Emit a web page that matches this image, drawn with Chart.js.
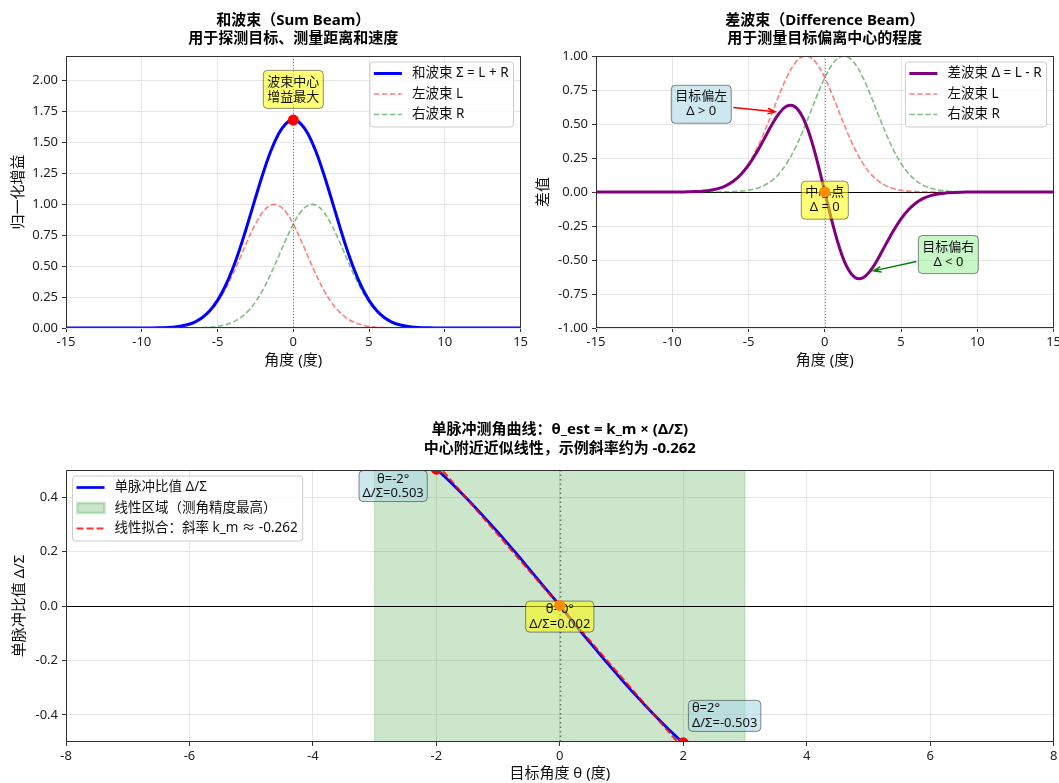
<!DOCTYPE html>
<html lang="zh">
<head>
<meta charset="utf-8">
<title>和差波束与单脉冲测角</title>
<script src="https://cdn.jsdelivr.net/npm/chart.js@4.4.1/dist/chart.umd.min.js"></script>
<style>
  html, body { margin: 0; padding: 0; background: #fff; overflow: hidden; }
  canvas { position: absolute; }
</style>
</head>
<body>
<canvas id="sumChart" width="530" height="370" style="left:0;top:0"></canvas>
<canvas id="diffChart" width="545" height="370" style="left:530px;top:0"></canvas>
<canvas id="ratioChart" width="1075" height="383" style="left:0;top:400px"></canvas>

<script>
const FONT = '"Noto Sans", "Noto Sans CJK SC", sans-serif';
Chart.defaults.font.family = FONT;
Chart.defaults.color = '#222';
Chart.defaults.animation = false;

// 角度 (度)
const angles = [-15, -14.5, -14, -13.5, -13, -12.5, -12, -11.5, -11, -10.5, -10, -9.5, -9, -8.5, -8, -7.5,
  -7, -6.5, -6, -5.5, -5, -4.5, -4, -3.5, -3, -2.5, -2, -1.5, -1, -0.5, 0, 0.5, 1, 1.5, 2, 2.5, 3, 3.5,
  4, 4.5, 5, 5.5, 6, 6.5, 7, 7.5, 8, 8.5, 9, 9.5, 10, 10.5, 11, 11.5, 12, 12.5, 13, 13.5, 14, 14.5, 15];

const leftBeam = [0, 0, 0, 0, 0, 0, 0, 0, 0, 0.0001, 0.0002, 0.0005, 0.0013, 0.0029, 0.0064, 0.0131,
  0.0256, 0.0470, 0.0819, 0.1349, 0.2102, 0.3099, 0.4322, 0.5704, 0.7120, 0.8409, 0.9395, 0.9931, 0.9931, 0.9395, 0.8409, 0.7120, 0.5704, 0.4322,
  0.3099, 0.2102, 0.1349, 0.0819, 0.0470, 0.0256, 0.0131, 0.0064, 0.0029, 0.0013, 0.0005, 0.0002, 0.0001,
  0, 0, 0, 0, 0, 0, 0, 0, 0, 0, 0, 0, 0, 0];

const rightBeam = [0, 0, 0, 0, 0, 0, 0, 0, 0, 0, 0, 0, 0, 0, 0.0001, 0.0002, 0.0005, 0.0013, 0.0029, 0.0064,
  0.0131, 0.0256, 0.0470, 0.0819, 0.1349, 0.2102, 0.3099, 0.4322, 0.5704, 0.7120, 0.8409, 0.9395, 0.9931, 0.9931,
  0.9395, 0.8409, 0.7120, 0.5704, 0.4322, 0.3099, 0.2102, 0.1349, 0.0819, 0.0470, 0.0256, 0.0131, 0.0064, 0.0029,
  0.0013, 0.0005, 0.0002, 0.0001, 0, 0, 0, 0, 0, 0, 0, 0, 0];

const sumBeam = [0, 0, 0, 0, 0, 0, 0, 0, 0, 0.0001, 0.0002, 0.0005, 0.0013, 0.0029, 0.0065, 0.0133,
  0.0261, 0.0483, 0.0848, 0.1413, 0.2233, 0.3355, 0.4792, 0.6523, 0.8469, 1.0511, 1.2494, 1.4253, 1.5635, 1.6515,
  1.6818, 1.6515, 1.5635, 1.4253, 1.2494, 1.0511, 0.8469, 0.6523, 0.4792, 0.3355, 0.2233, 0.1413, 0.0848, 0.0483,
  0.0261, 0.0133, 0.0065, 0.0029, 0.0013, 0.0005, 0.0002, 0.0001, 0, 0, 0, 0, 0, 0, 0, 0, 0];

const diffBeam = [0, 0, 0, 0, 0, 0, 0, 0, 0, 0.0001, 0.0002, 0.0005, 0.0013, 0.0029, 0.0063, 0.0129,
  0.0251, 0.0457, 0.0790, 0.1285, 0.1971, 0.2843, 0.3852, 0.4885, 0.5771, 0.6307, 0.6296, 0.5609, 0.4227, 0.2275,
  0, -0.2275, -0.4227, -0.5609, -0.6296, -0.6307, -0.5771, -0.4885, -0.3852, -0.2843, -0.1971, -0.1285, -0.0790, -0.0457,
  -0.0251, -0.0129, -0.0063, -0.0029, -0.0013, -0.0005, -0.0002, -0.0001, 0, 0, 0, 0, 0, 0, 0, 0, 0];

// 单脉冲比值 Δ/Σ
const ratioAngles = [-2, -1.75, -1.5, -1.25, -1, -0.75, -0.5, -0.25, 0, 0.25, 0.5, 0.75, 1, 1.25, 1.5, 1.75, 2];
const ratioValues = [0.5038, 0.4506, 0.3935, 0.3334, 0.2705, 0.2050, 0.1378, 0.0692, 0.002,
  -0.0692, -0.1378, -0.2050, -0.2705, -0.3334, -0.3935, -0.4506, -0.5038];
const fitAngles = [-2, 2];
const fitValues = [0.524, -0.524];
const fitSlope = -0.262;
const linearRegion = [-3, 3];

// 标记点
const peakAngles = [0];
const peakValues = [1.6818];
const centerAngles = [0];
const centerValues = [0];
const sampleAngles = [-2, 0, 2];
const sampleValues = [0.503, 0.002, -0.503];

// 刻度
const beamTicksX = [-15, -10, -5, 0, 5, 10, 15];
const sumTicksY = [0, 0.25, 0.5, 0.75, 1, 1.25, 1.5, 1.75, 2];
const diffTicksY = [-1, -0.75, -0.5, -0.25, 0, 0.25, 0.5, 0.75, 1];
const ratioTicksX = [-8, -6, -4, -2, 0, 2, 4, 6, 8];
const ratioTicksY = [-0.4, -0.2, 0, 0.2, 0.4];

const pts = (xs, ys) => xs.map((x, i) => ({ x, y: ys[i] }));

const YELLOW = 'rgba(255,255,0,0.55)';
const LIGHTBLUE = 'rgba(173,216,230,0.6)';
const LIGHTGREEN = 'rgba(144,238,144,0.5)';
const RED_DASH = 'rgba(255,0,0,0.5)';
const GREEN_DASH = 'rgba(0,128,0,0.5)';

function roundRect(ctx, x, y, w, h, r) {
  ctx.beginPath();
  ctx.moveTo(x + r, y);
  ctx.arcTo(x + w, y, x + w, y + h, r);
  ctx.arcTo(x + w, y + h, x, y + h, r);
  ctx.arcTo(x, y + h, x, y, r);
  ctx.arcTo(x, y, x + w, y, r);
  ctx.closePath();
}

function drawNote(chart, n, st) {
  const { ctx, scales: { x, y } } = chart;
  const cx = x.getPixelForValue(n.at[0]);
  const cy = y.getPixelForValue(n.at[1]);
  ctx.save();
  ctx.font = `${st.size}px ${FONT}`;
  const tw = Math.max(...n.lines.map(t => ctx.measureText(t).width));
  const w = tw + 2 * st.padX;
  const h = n.lines.length * st.lineH + 2 * st.padY;
  const bx = cx - w / 2, by = cy - h / 2;

  if (n.arrowTo) {
    const tx = x.getPixelForValue(n.arrowTo[0]);
    const ty = y.getPixelForValue(n.arrowTo[1]);
    const dx = tx - cx, dy = ty - cy;
    const s = Math.min((w / 2 + 2) / Math.abs(dx || 1e-6), (h / 2 + 2) / Math.abs(dy || 1e-6));
    const sx = cx + dx * s, sy = cy + dy * s;
    const ang = Math.atan2(ty - sy, tx - sx);
    ctx.strokeStyle = n.arrowColor;
    ctx.lineWidth = 1.5;
    ctx.beginPath();
    ctx.moveTo(sx, sy);
    ctx.lineTo(tx, ty);
    ctx.moveTo(tx - 8 * Math.cos(ang - 0.35), ty - 8 * Math.sin(ang - 0.35));
    ctx.lineTo(tx, ty);
    ctx.lineTo(tx - 8 * Math.cos(ang + 0.35), ty - 8 * Math.sin(ang + 0.35));
    ctx.stroke();
  }

  roundRect(ctx, bx, by, w, h, 4);
  ctx.fillStyle = n.bg;
  ctx.fill();
  ctx.strokeStyle = 'rgba(0,0,0,0.45)';
  ctx.lineWidth = 1;
  ctx.stroke();

  ctx.fillStyle = '#111';
  ctx.textBaseline = 'middle';
  ctx.textAlign = n.align === 'left' ? 'left' : 'center';
  const tx0 = n.align === 'left' ? bx + st.padX : cx;
  n.lines.forEach((t, i) => ctx.fillText(t, tx0, by + st.padY + st.lineH * (i + 0.5)));
  ctx.restore();
}

function drawLegend(chart, lg) {
  const { ctx, chartArea: a } = chart;
  ctx.save();
  ctx.font = `13.5px ${FONT}`;
  const tw = Math.max(...lg.items.map(it => ctx.measureText(it.text).width));
  const w = 42 + tw + 5;
  const h = 24 + (lg.items.length - 1) * 20.5;
  const x0 = lg.side === 'right' ? a.right - 7 - w : a.left + 6.5;
  const y0 = a.top + 6;
  roundRect(ctx, x0, y0, w, h, 3);
  ctx.fillStyle = 'rgba(255,255,255,0.8)';
  ctx.fill();
  ctx.strokeStyle = '#cccccc';
  ctx.lineWidth = 1;
  ctx.stroke();
  lg.items.forEach((it, i) => {
    const cy = y0 + 11.5 + i * 20.5;
    if (it.patch) {
      ctx.fillStyle = it.patch;
      ctx.fillRect(x0 + 5, cy - 5, 27, 10);
      ctx.strokeStyle = it.patch;
      ctx.strokeRect(x0 + 5, cy - 5, 27, 10);
    } else {
      ctx.setLineDash(it.dash || []);
      ctx.strokeStyle = it.color;
      ctx.lineWidth = it.width;
      ctx.beginPath();
      ctx.moveTo(x0 + 4, cy);
      ctx.lineTo(x0 + 32, cy);
      ctx.stroke();
      ctx.setLineDash([]);
    }
    ctx.fillStyle = '#111';
    ctx.textAlign = 'left';
    ctx.textBaseline = 'middle';
    ctx.fillText(it.text, x0 + 42, cy);
  });
  ctx.restore();
}

const decorPlugin = {
  id: 'decor',
  beforeDatasetsDraw(chart, args, o) {
    const { ctx, chartArea: a, scales: { x, y } } = chart;
    ctx.save();
    if (o.band) {
      const x0 = x.getPixelForValue(o.band[0]);
      const x1 = x.getPixelForValue(o.band[1]);
      ctx.fillStyle = 'rgba(0,128,0,0.2)';
      ctx.fillRect(x0, a.top, x1 - x0, a.bottom - a.top);
      ctx.strokeStyle = 'rgba(0,128,0,0.2)';
      ctx.lineWidth = 1;
      ctx.beginPath();
      ctx.moveTo(x0, a.top); ctx.lineTo(x0, a.bottom);
      ctx.moveTo(x1, a.top); ctx.lineTo(x1, a.bottom);
      ctx.stroke();
    }
    if (o.zeroH) {
      const py = Math.round(y.getPixelForValue(0)) + 0.5;
      ctx.strokeStyle = '#000';
      ctx.lineWidth = 1;
      ctx.beginPath(); ctx.moveTo(a.left, py); ctx.lineTo(a.right, py); ctx.stroke();
    }
    const px = Math.round(x.getPixelForValue(0)) + 0.5;
    ctx.strokeStyle = o.vColor;
    ctx.lineWidth = o.vWidth;
    ctx.setLineDash(o.vDash);
    ctx.beginPath(); ctx.moveTo(px, a.top); ctx.lineTo(px, a.bottom); ctx.stroke();
    ctx.restore();
  },
  beforeDatasetDraw(chart, args, o) {
    const ds = chart.data.datasets[args.index];
    if (!ds.isMarker || !o.notes) return;
    o.notes.forEach(n => drawNote(chart, n, o.noteStyle));
  },
  afterDatasetsDraw(chart) {
    const { ctx, chartArea: a } = chart;
    ctx.save();
    ctx.strokeStyle = '#333';
    ctx.lineWidth = 1;
    ctx.strokeRect(Math.round(a.left) + 0.5, Math.round(a.top) + 0.5,
      Math.round(a.right - a.left) - 1, Math.round(a.bottom - a.top) - 1);
    ctx.restore();
  },
  afterDraw(chart, args, o) {
    const { ctx, chartArea: a } = chart;
    ctx.save();
    ctx.font = `bold 15px ${FONT}`;
    ctx.fillStyle = '#000';
    ctx.textAlign = 'center';
    ctx.textBaseline = 'middle';
    o.title.forEach((t, i) => ctx.fillText(t, (a.left + a.right) / 2, o.titleY[i]));
    ctx.restore();
    drawLegend(chart, o.legend);
  }
};

function axisX(ticks, title, height) {
  return {
    type: 'linear',
    min: ticks[0],
    max: ticks[ticks.length - 1],
    afterBuildTicks: s => { s.ticks = ticks.map(v => ({ value: v })); },
    afterFit: s => { s.height = height; },
    ticks: { font: { size: 13 }, padding: 2, maxRotation: 0, color: '#222', callback: v => String(v) },
    grid: { color: '#e6e6e6', tickColor: '#333', tickLength: 4 },
    border: { display: false },
    title: { display: true, text: title, font: { size: 15 }, color: '#111', padding: { top: 0, bottom: 0 } }
  };
}

function axisY(ticks, min, max, digits, title, titlePad) {
  return {
    min, max,
    afterBuildTicks: s => { s.ticks = ticks.map(v => ({ value: v })); },
    afterFit: s => { s.width = 66; },
    ticks: { font: { size: 13 }, padding: 4, color: '#222', callback: v => v.toFixed(digits) },
    grid: { color: '#e6e6e6', tickColor: '#333', tickLength: 4 },
    border: { display: false },
    title: { display: true, text: title, font: { size: 15 }, color: '#111', padding: { top: titlePad, bottom: 0 } }
  };
}

const lineDs = (label, xs, ys, color, width, dash, order) => ({
  label, data: pts(xs, ys), borderColor: color, borderWidth: width, borderDash: dash || [],
  pointRadius: 0, tension: 0.4, fill: false, order, clip: 0
});

const markerDs = (xs, ys, colors) => ({
  label: 'markers', isMarker: true, data: pts(xs, ys), showLine: false,
  pointRadius: 5.5, pointBackgroundColor: colors, pointBorderColor: colors, pointBorderWidth: 0,
  order: 0, clip: 0
});

const baseOptions = {
  responsive: false,
  devicePixelRatio: 1,
  events: [],
};

// 和波束
new Chart(document.getElementById('sumChart'), {
  type: 'line',
  data: {
    datasets: [
      markerDs(peakAngles, peakValues, 'red'),
      lineDs('和波束 Σ = L + R', angles, sumBeam, 'blue', 3, null, 1),
      lineDs('左波束 L', angles, leftBeam, RED_DASH, 1.6, [5.5, 2.5], 2),
      lineDs('右波束 R', angles, rightBeam, GREEN_DASH, 1.6, [5.5, 2.5], 3)
    ]
  },
  options: {
    ...baseOptions,
    layout: { padding: { top: 56, right: 7, left: 0, bottom: 0 } },
    scales: {
      x: axisX(beamTicksX, '角度 (度)', 42),
      y: axisY(sumTicksY, 0, 2.2, 2, '归一化增益', 10)
    },
    plugins: {
      legend: { display: false },
      tooltip: { enabled: false },
      decor: {
        title: ['和波束（Sum Beam）', '用于探测目标、测量距离和速度'],
        titleY: [21, 39],
        vColor: 'rgba(0,0,0,0.45)', vWidth: 1, vDash: [1, 2],
        noteStyle: { size: 13, lineH: 15, padX: 4, padY: 4 },
        notes: [{ at: [0, 1.93], lines: ['波束中心', '增益最大'], bg: YELLOW }],
        legend: {
          side: 'right',
          items: [
            { text: '和波束 Σ = L + R', color: 'blue', width: 3 },
            { text: '左波束 L', color: RED_DASH, width: 1.6, dash: [5.5, 2.5] },
            { text: '右波束 R', color: GREEN_DASH, width: 1.6, dash: [5.5, 2.5] }
          ]
        }
      }
    }
  },
  plugins: [decorPlugin]
});

// 差波束
new Chart(document.getElementById('diffChart'), {
  type: 'line',
  data: {
    datasets: [
      markerDs(centerAngles, centerValues, '#ff8c00'),
      lineDs('差波束 Δ = L - R', angles, diffBeam, 'purple', 3, null, 1),
      lineDs('左波束 L', angles, leftBeam, RED_DASH, 1.6, [5.5, 2.5], 2),
      lineDs('右波束 R', angles, rightBeam, GREEN_DASH, 1.6, [5.5, 2.5], 3)
    ]
  },
  options: {
    ...baseOptions,
    layout: { padding: { top: 56, right: 21.4, left: 0, bottom: 0 } },
    scales: {
      x: axisX(beamTicksX, '角度 (度)', 42),
      y: axisY(diffTicksY, -1, 1, 2, '差值', 4.5)
    },
    plugins: {
      legend: { display: false },
      tooltip: { enabled: false },
      decor: {
        title: ['差波束（Difference Beam）', '用于测量目标偏离中心的程度'],
        titleY: [21, 39],
        zeroH: true,
        vColor: 'rgba(0,0,0,0.45)', vWidth: 1, vDash: [1, 2],
        noteStyle: { size: 13, lineH: 15, padX: 4, padY: 4 },
        notes: [
          { at: [-8.1, 0.645], lines: ['目标偏左', 'Δ > 0'], bg: LIGHTBLUE, arrowTo: [-3.25, 0.59], arrowColor: 'red' },
          { at: [0, -0.06], lines: ['中心点', 'Δ = 0'], bg: YELLOW },
          { at: [8.1, -0.46], lines: ['目标偏右', 'Δ < 0'], bg: LIGHTGREEN, arrowTo: [3.2, -0.58], arrowColor: 'green' }
        ],
        legend: {
          side: 'right',
          items: [
            { text: '差波束 Δ = L - R', color: 'purple', width: 3 },
            { text: '左波束 L', color: RED_DASH, width: 1.6, dash: [5.5, 2.5] },
            { text: '右波束 R', color: GREEN_DASH, width: 1.6, dash: [5.5, 2.5] }
          ]
        }
      }
    }
  },
  plugins: [decorPlugin]
});

// 单脉冲测角曲线
const sampleNotes = sampleAngles.map((a, i) => ({
  lines: [`θ=${a}°`, `Δ/Σ=${sampleValues[i].toFixed(3)}`]
}));
sampleNotes[0].at = [-2.7, 0.441]; sampleNotes[0].bg = LIGHTBLUE;
sampleNotes[1].at = [0, -0.039]; sampleNotes[1].bg = YELLOW;
sampleNotes[2].at = [2.67, -0.404]; sampleNotes[2].bg = LIGHTBLUE; sampleNotes[2].align = 'left';

new Chart(document.getElementById('ratioChart'), {
  type: 'line',
  data: {
    datasets: [
      markerDs(sampleAngles, sampleValues, ['red', '#ff8c00', 'red']),
      lineDs('线性拟合', fitAngles, fitValues, 'rgba(255,0,0,0.8)', 2.2, [7, 3], 1),
      lineDs('单脉冲比值 Δ/Σ', ratioAngles, ratioValues, 'blue', 2.7, null, 2)
    ]
  },
  options: {
    ...baseOptions,
    layout: { padding: { top: 70, right: 21.4, left: 0, bottom: 0 } },
    scales: {
      x: axisX(ratioTicksX, '目标角度 θ (度)', 41),
      y: axisY(ratioTicksY, -0.5, 0.5, 1, '单脉冲比值 Δ/Σ', 11)
    },
    plugins: {
      legend: { display: false },
      tooltip: { enabled: false },
      decor: {
        title: ['单脉冲测角曲线：θ_est = k_m × (Δ/Σ)', `中心附近近似线性，示例斜率约为 ${fitSlope}`],
        titleY: [29.5, 48.5],
        band: linearRegion,
        zeroH: true,
        vColor: 'rgba(0,0,0,0.5)', vWidth: 1.5, vDash: [1.5, 3],
        noteStyle: { size: 13, lineH: 14.5, padX: 3.5, padY: 1 },
        notes: sampleNotes,
        legend: {
          side: 'left',
          items: [
            { text: '单脉冲比值 Δ/Σ', color: 'blue', width: 2.7 },
            { text: '线性区域（测角精度最高）', patch: 'rgba(0,128,0,0.2)' },
            { text: `线性拟合：斜率 k_m ≈ ${fitSlope}`, color: 'rgba(255,0,0,0.8)', width: 2.2, dash: [7, 3] }
          ]
        }
      }
    }
  },
  plugins: [decorPlugin]
});
</script>
</body>
</html>
